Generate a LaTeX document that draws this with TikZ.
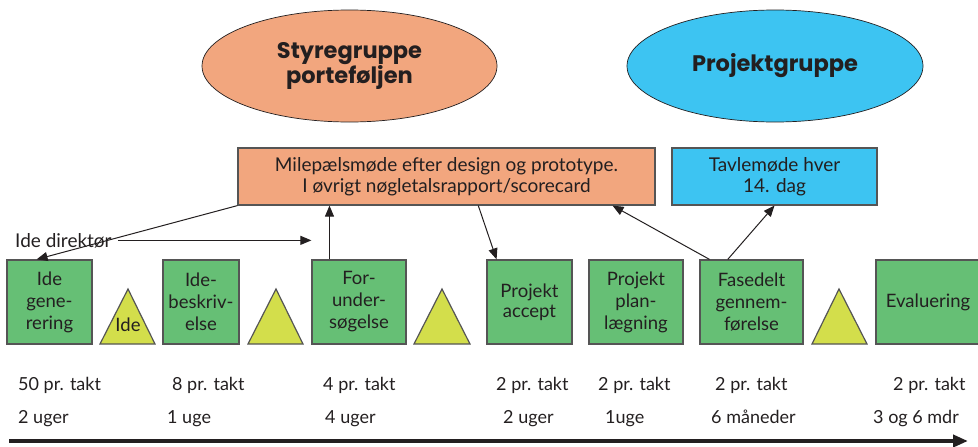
\documentclass[tikz,border=0pt]{standalone}
\usepackage{fontspec}
\setmainfont{Lato}
\newfontfamily\titlefont{Poppins}
\usetikzlibrary{arrows.meta,calc,shapes.geometric}
\definecolor{txt}{HTML}{231F20}
\definecolor{orangefill}{HTML}{F2A67E}
\definecolor{bluefill}{HTML}{3DC4F2}
\definecolor{greenfill}{HTML}{66BF75}
\definecolor{trifill}{HTML}{D3DE4B}
\definecolor{edge}{HTML}{555555}
\tikzset{
  every node/.style={text=txt},
  ell/.style={ellipse, draw=txt, line width=0.7pt, inner sep=0pt, font=\titlefont\bfseries\fontsize{22.5}{24.5}\selectfont, align=center},
  topbox/.style={draw=edge, line width=1.2pt, inner sep=0pt, minimum height=57pt, align=center, font=\fontsize{19}{21}\selectfont},
  phase/.style={draw=edge, fill=greenfill, line width=1.2pt, inner sep=0pt, minimum height=84pt, align=center, font=\fontsize{18.5}{22}\selectfont},
  tri/.style={draw=edge, fill=trifill, line width=1.2pt, line join=miter},
  conn/.style={draw=txt, line width=1pt, -{Triangle[length=11pt,width=9pt]}},
  lbl/.style={anchor=base west, inner sep=0pt, font=\fontsize{18}{20}\selectfont},
  timeline/.style={draw=txt, line width=4pt, -{Triangle[length=15pt,width=12pt]}}
}
\begin{document}
\begin{tikzpicture}[x=1pt,y=-1pt]
\useasboundingbox (0,0) rectangle (978,447);
\begin{scope}
\clip (0,0) rectangle (978,447);
% ellipses
\node[ell, fill=orangefill, minimum width=295pt, minimum height=112pt] (e1) at (349.5,66) {Styregruppe\\porteføljen};
\node[ell, fill=bluefill, minimum width=296pt, minimum height=112pt] (e2) at (775,66) {Projektgruppe};
% top boxes
\node[topbox, fill=orangefill, minimum width=417pt] (org) at (446.5,176.5) {Milepælsmøde efter design og prototype.\\I øvrigt nøgletalsrapport/scorecard};
\node[topbox, fill=bluefill, minimum width=205pt] (blu) at (774.5,176.5) {Tavlemøde hver\\14. dag};
% phases
\node[phase, minimum width=85pt] (b1) at (49.5,302) {Ide\\gene-\\rering};
\node[phase, minimum width=76pt] (b2) at (201,302) {Ide-\\beskriv-\\else};
\node[phase, minimum width=94pt] (b3) at (359,302) {For-\\under-\\søgelse};
\node[phase, minimum width=85pt] (b4) at (529.5,302) {\raisebox{-4pt}{\shortstack{Projekt\\[1pt]accept}}};
\node[phase, minimum width=94pt] (b5) at (636,302) {Projekt\\plan-\\lægning};
\node[phase, minimum width=103pt] (b6) at (751.5,302) {Fasedelt\\gennem-\\førelse};
\node[phase, minimum width=114pt, text width=100pt] (b7) at (933,302) {\hspace*{-10pt}Evaluering};
\end{scope}
% triangles
\draw[tri] (100,344) -- (128,289) -- (155,344) -- cycle;
\draw[tri] (248,344) -- (276,289) -- (303,344) -- cycle;
\draw[tri] (414,344) -- (442,289) -- (470,344) -- cycle;
\draw[tri] (812,344) -- (839,289) -- (867,344) -- cycle;
\node[anchor=base, inner sep=0pt, font=\fontsize{18.5}{20}\selectfont] (tide) at (128,331) {Ide};
% connectors
\node[lbl, font=\fontsize{19}{20}\selectfont] (idd) at (15,247) {Ide direktør};
\draw[conn] (org.south west) -- ($(b1.north west)!0.35!(b1.north east)$);
\draw[conn, shorten <=6pt] (idd.east) -- (idd.east -| b3.west);
\coordinate (b3n) at ($(b3.north west)!0.19!(b3.north east)$);
\draw[conn] (b3n) -- (b3n |- org.south);
\draw[conn] ($(org.south west)!0.576!(org.south east)$) -- ($(b4.north west)!0.118!(b4.north east)$);
\draw[conn] ($(b6.north west)!0.097!(b6.north east)$) -- ($(org.south west)!0.897!(org.south east)$);
\draw[conn] ($(b6.north west)!0.272!(b6.north east)$) -- (blu.south);
% rates
\node[lbl] (r1) at (18,390) {50 pr. takt};
\node[lbl] (r2) at (172,390) {8 pr. takt};
\node[lbl] (r3) at (323,390) {4 pr. takt};
\node[lbl] (r4) at (496,390) {2 pr. takt};
\node[lbl] (r5) at (598,390) {2 pr. takt};
\node[lbl] (r6) at (715,390) {2 pr. takt};
\node[lbl] (r7) at (893,390) {2 pr. takt};
% durations
\node[lbl] (d1) at (18,423) {2 uger};
\node[lbl] (d2) at (167,423) {1 uge};
\node[lbl] (d3) at (325,423) {4 uger};
\node[lbl] (d4) at (503,423) {2 uger};
\node[lbl] (d5) at (605,423) {1uge};
\node[lbl] (d6) at (711,423) {6 måneder};
\node[lbl] (d7) at (873,423) {3 og 6 mdr};
% timeline
\coordinate (t0) at (9,441);
\coordinate (t1) at (968,441);
\draw[timeline] (t0) -- (t1);
\end{tikzpicture}
\end{document}
